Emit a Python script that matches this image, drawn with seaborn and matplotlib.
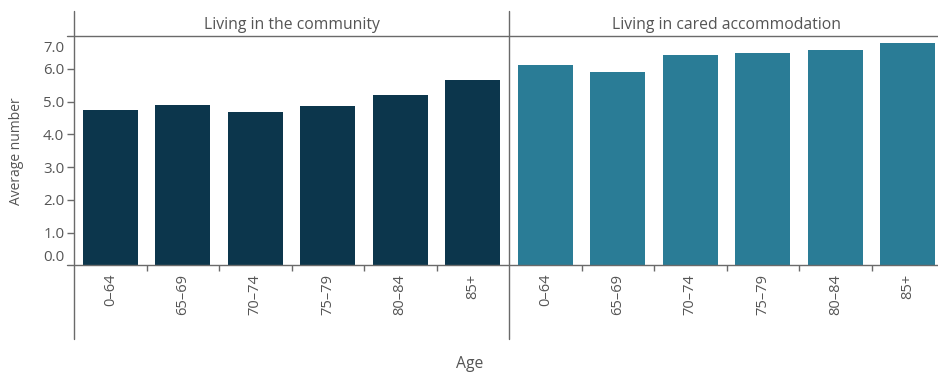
import numpy as np
import pandas as pd
import seaborn as sns
import matplotlib.pyplot as plt
from matplotlib.lines import Line2D
from matplotlib.transforms import ScaledTranslation

# values
ages = ["0–64", "65–69", "70–74", "75–79", "80–84", "85+"]
community = [4.75, 4.90, 4.68, 4.86, 5.20, 5.66]
cared = [6.10, 5.91, 6.43, 6.47, 6.58, 6.78]
panels = ["Living in the community", "Living in cared accommodation"]
y_ticks = [0, 1, 2, 3, 4, 5, 6, 7]

colours = ["#0c364c", "#2a7c96"]
TEXT = "#555555"
LINE = "#6a6a6a"

sns.set_style("white")
plt.rcParams["font.family"] = ["Open Sans", "DejaVu Sans"]

W, H = 938, 372
fig = plt.figure(figsize=(W / 100, H / 100), dpi=100)


def px(x0, y0, w, h):
    # pixel box (from top-left) -> figure fraction
    return [x0 / W, 1 - (y0 + h) / H, w / W, h / H]


top, bottom = 36, 265.4
ax1 = fig.add_axes(px(74, top, 435, bottom - top))
ax2 = fig.add_axes(px(509, top, 435, bottom - top))

for ax, vals, title, col in zip([ax1, ax2], [community, cared], panels, colours):
    df = pd.DataFrame({"age": ages, "value": vals})
    sns.barplot(data=df, x="age", y="value", color=col, saturation=1,
                width=0.76, linewidth=0, ax=ax)
    ax.set_xlim(-0.5, 5.5)
    ax.set_ylim(0, 7)
    ax.set_xlabel("")
    ax.set_ylabel("")
    for s in ax.spines.values():
        s.set_visible(False)
    ax.tick_params(axis="x", which="major", length=0, pad=6, labelrotation=90,
                   labelsize=10.5, labelcolor=TEXT)
    ax.set_xticks(np.arange(0.5, 5, 1), minor=True)
    ax.tick_params(axis="x", which="minor", length=4, width=1, color=LINE,
                   bottom=True)
    # panel header
    bb = ax.get_position()
    fig.text((bb.x0 + bb.x1) / 2, 1 - 25 / H, title, ha="center", va="center",
             fontsize=11.3, color=TEXT)

ax1.set_yticks(y_ticks)
ax1.set_yticklabels([f"{v:.1f}" for v in y_ticks])
ax1.tick_params(axis="y", length=5, width=1, color=LINE, pad=2,
                labelsize=10.8, labelcolor=TEXT, left=True)
ax2.set_yticks([])

# end labels are nudged inside the axis, as in the original
ticks = ax1.yaxis.get_major_ticks()
ticks[0].tick1line.set_visible(False)
ticks[-1].tick1line.set_visible(False)
ticks[0].label1.set_transform(ticks[0].label1.get_transform()
                              + ScaledTranslation(0, 10 / 100, fig.dpi_scale_trans))
ticks[-1].label1.set_transform(ticks[-1].label1.get_transform()
                               + ScaledTranslation(0, -10 / 100, fig.dpi_scale_trans))

# frame lines of the panel layout
for y in [top, bottom]:
    fig.add_artist(Line2D([67 / W, 1], [1 - y / H] * 2, color=LINE, lw=1))
for x in [74, 509]:
    fig.add_artist(Line2D([x / W] * 2, [1 - 11 / H, 1 - 339 / H], color=LINE, lw=1))

fig.text(17 / W, 1 - 151 / H, "Average number", rotation=90, ha="center",
         va="center", fontsize=10, color=TEXT)
fig.text(470 / W, 1 - 364 / H, "Age", ha="center", va="center",
         fontsize=11.3, color=TEXT)

fig.savefig("out.png", dpi=100)
